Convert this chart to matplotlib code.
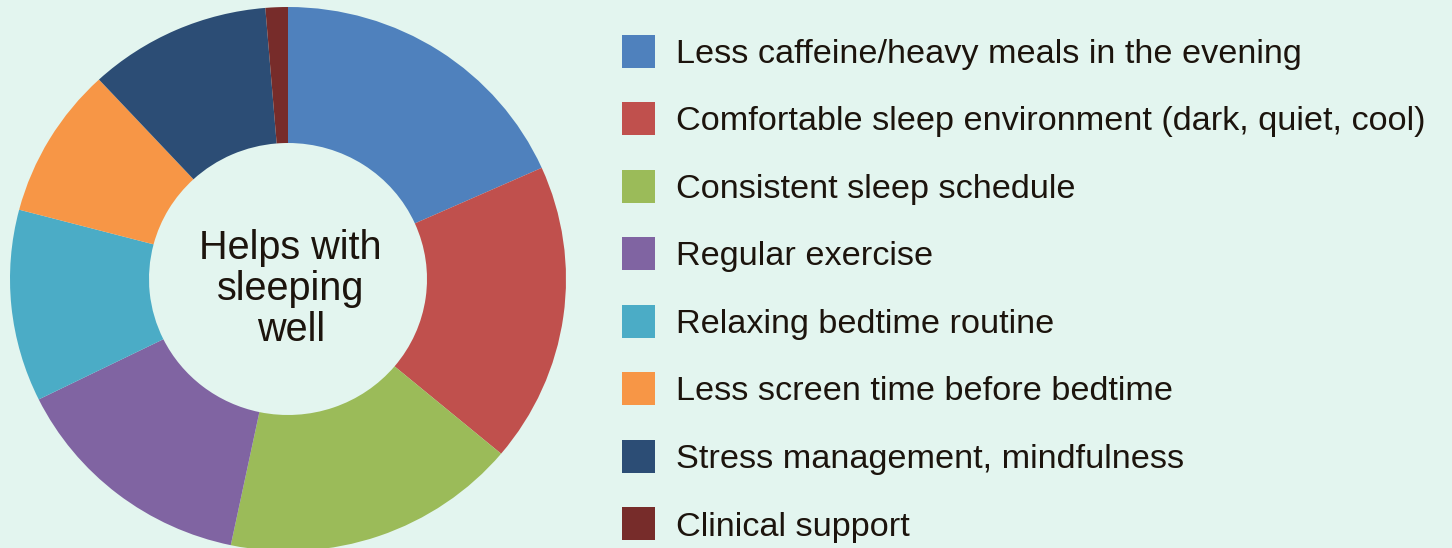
import matplotlib
matplotlib.use("Agg")
import matplotlib.pyplot as plt

labels = [
    "Less caffeine/heavy meals in the evening",
    "Comfortable sleep environment (dark, quiet, cool)",
    "Consistent sleep schedule",
    "Regular exercise",
    "Relaxing bedtime routine",
    "Less screen time before bedtime",
    "Stress management, mindfulness",
    "Clinical support",
]
shares = [18.3, 17.8, 17.2, 14.4, 11.4, 9.0, 10.6, 1.3]
colors = ["#4F81BD", "#C0504D", "#9BBB59", "#8064A2",
          "#4BACC6", "#F79646", "#2C4D75", "#772C2A"]
center_label = "Helps with\nsleeping\nwell"

bg = "#E3F5EF"
txt = "#1c140d"
plt.rcParams["font.family"] = ["Liberation Sans", "DejaVu Sans"]

W, H = 1452, 548
fig = plt.figure(figsize=(W / 100, H / 100), dpi=100, facecolor=bg)

# pie axes in pixel terms: left 10, right 566, top 7, bottom 551
ax = fig.add_axes([10 / W, (H - 551) / H, 556 / W, 544 / H])
ax.set_facecolor(bg)
wedges, _ = ax.pie(shares, colors=colors, startangle=90, counterclock=False,
                   radius=1, wedgeprops=dict(width=0.5, linewidth=0))
ax.set_aspect("auto")
ax.set_xlim(-1, 1)
ax.set_ylim(-1, 1)
ax.axis("off")

ax.text(0.01, -0.035, center_label, ha="center", va="center",
        fontsize=28.5, color=txt, linespacing=1.1)

fs = 24.7
leg = fig.legend(wedges, labels, loc="upper left",
                 bbox_to_anchor=(622 / W, 1 - 34.5 / H),
                 frameon=False, fontsize=fs, borderpad=0, borderaxespad=0,
                 handlelength=0.962, handleheight=1.104, handletextpad=0.612,
                 labelspacing=0.944)
for t in leg.get_texts():
    t.set_color(txt)

fig.savefig("out.png", dpi=100, facecolor=bg)
